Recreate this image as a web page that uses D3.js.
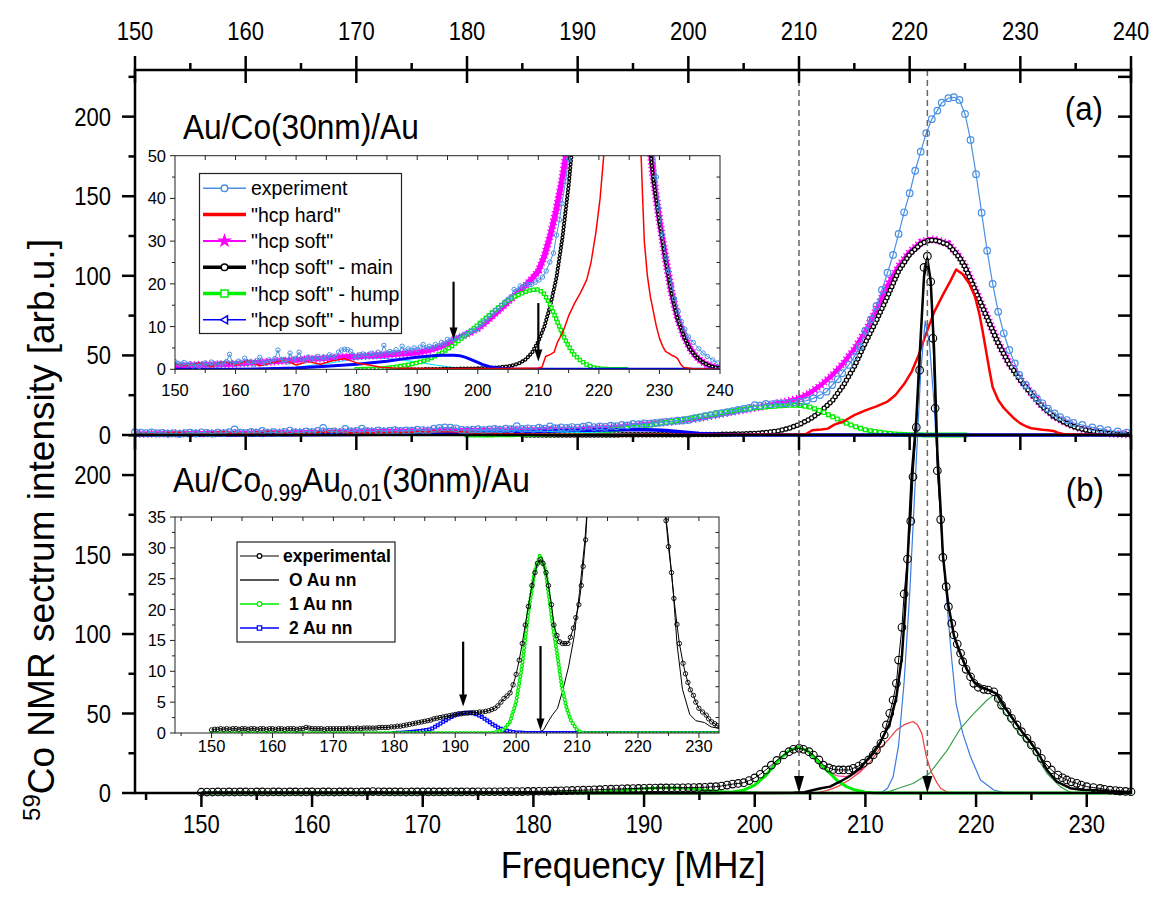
<!DOCTYPE html>
<html><head><meta charset="utf-8">
<script src="https://cdn.jsdelivr.net/npm/d3@7"></script>
<style>body{margin:0;background:#fff}text{font-family:"Liberation Sans",Arial,sans-serif;fill:#000}</style>
</head><body><svg id="c" width="1168" height="911"></svg>
<script>
// ---------------- DATA ----------------
// Panel (a) – top frequency axis
const expA=[[150,1.8],[150.5,1.4],[151,1.2],[151.5,1.6],[152,1.0],[152.5,1.3],[153,0.8],[153.5,1.1],[154,0.7],[154.5,1.2],[155,1.5],[155.5,1.0],[156,1.7],[156.5,1.3],[157,0.9],[157.5,1.4],[158,1.2],[158.5,1.8],[159,3.5],[159.5,1.5],[160,1.1],[160.5,1.9],[161,1.4],[161.5,2.6],[162,1.3],[162.5,1.8],[163,1.2],[163.5,2.0],[164,2.8],[164.5,1.6],[165,1.4],[165.5,2.2],[166,1.8],[166.5,2.5],[167,4.5],[167.5,2.1],[168,2.3],[168.5,1.7],[169,3.8],[169.5,2.2],[170,2.6],[170.5,4.0],[171,2.4],[171.5,2.1],[172,2.9],[172.5,2.3],[173,2.6],[173.5,3.0],[174,2.5],[174.5,2.9],[175,2.7],[175.5,3.4],[176,3.1],[176.5,2.8],[177,4.0],[177.5,4.5],[178,4.7],[178.5,4.6],[179,4.2],[179.5,3.2],[180,3.0],[180.5,3.4],[181,3.6],[181.5,3.1],[182,3.5],[182.5,3.8],[183,3.4],[183.5,4.0],[184,3.6],[184.5,5.6],[185,3.8],[185.5,4.2],[186,3.9],[186.5,4.6],[187,4.0],[187.5,5.4],[188,4.3],[188.5,4.8],[189,4.5],[189.5,5.0],[190,4.6],[190.5,5.2],[191,5.8],[191.5,5.0],[192,5.4],[192.5,5.1],[193,5.8],[193.5,5.5],[194,6.3],[194.5,6.0],[195,7.0],[195.5,6.8],[196,7.3],[196.5,7.2],[197,7.6],[197.5,7.9],[198,8.3],[198.5,8.6],[199,9.0],[199.5,9.1],[200,9.5],[200.5,10.5],[201,11.0],[201.5,11.8],[202,12.5],[202.5,13.2],[203,13.8],[203.5,14.3],[204,15.0],[204.5,15.8],[205,16.4],[205.5,17.0],[206,18.7],[206.5,18.4],[207,19.5],[207.5,19.3],[208,19.9],[208.5,19.8],[208.9,19.9],[209.5,20.4],[210.1,20.9],[210.7,21.6],[211.3,23.0],[211.9,25.1],[212.5,27.2],[213.0,31.4],[213.5,35.0],[213.9,38.8],[214.5,44.0],[215.0,49.2],[215.5,55.5],[216.0,65.5],[216.5,72.7],[217.0,81.1],[217.5,91.1],[218.0,102.0],[218.5,113.1],[219.0,126.3],[219.5,139.9],[220.0,151.9],[220.5,166.0],[221.0,178.0],[221.5,189.6],[222.0,198.4],[222.5,203.8],[222.9,208.8],[223.5,211.6],[224.0,212.2],[224.5,210.5],[225.0,201.7],[225.5,185.4],[226.0,163.8],[226.5,139.7],[227.0,115.8],[227.5,94.9],[228.0,77.5],[228.5,63.9],[229.0,53.4],[229.5,45.0],[229.9,37.7],[230.5,31.4],[231.1,26.2],[231.5,23.0],[232.0,19.9],[232.5,16.5],[233.1,13.6],[233.6,11.2],[234.2,9.4],[234.8,7.6],[235.6,6.3],[236.5,4.8],[237.2,3.8],[237.9,3.0],[238.8,2.2],[239.6,1.5]];
const hardA=[[150,1.2],[152,0.8],[154,1.5],[156,0.6],[158,1.8],[160,1.0],[162,2.0],[164,0.8],[166,1.5],[168,2.2],[170,1.0],[172,1.8],[174,1.2],[176,2.0],[178,2.5],[180,1.5],[182,1.0],[184,0.5],[186,0.3],[190,0.2],[195,0.2],[200,0.2],[205,0.2],[210,0.3],[210.6,0.5],[211.2,3],[212,3.5],[212.6,4],[213.2,6.5],[214,8.5],[215,12.5],[216,15.5],[217,18],[218,21],[218.7,25],[219.5,32],[220.2,40],[220.8,50],[221.5,64],[222.2,77],[223,88],[223.7,97],[224.2,104],[224.8,101],[225.4,95],[225.9,87],[226.3,76],[226.6,65],[226.9,53],[227.2,41],[227.5,30],[228,22],[228.5,17],[229,13.5],[229.5,10],[230,7.3],[230.5,5.5],[231,4.2],[231.5,3.8],[232,3.3],[232.5,3],[233,2.5],[233.5,1.2],[234,0.4],[236,0.1],[240,0]];
const softA=[[150,0.8],[152,0.9],[154,1.0],[156,1.1],[158,1.2],[160,1.3],[162,1.5],[164,1.6],[166,1.8],[168,2.0],[170,2.2],[172,2.4],[174,2.5],[176,2.7],[178,2.9],[180,3.0],[182,3.2],[184,3.3],[186,3.5],[188,3.7],[190,3.9],[191,4.2],[192,4.5],[193,4.9],[194,5.4],[195,6.0],[196,6.7],[197,7.4],[198,8.1],[199,8.8],[200,9.6],[201,10.7],[202,11.9],[203,13.2],[204,14.5],[205,15.8],[206,17.1],[207,18.4],[208,19.8],[209,21.3],[210,23.0],[211,26.5],[212,31.5],[213,37.5],[214,45],[215,54],[216,65],[217,79],[218,94],[219,106],[220,115],[221,121],[221.8,123],[222.5,122.5],[223.5,120],[224.5,112],[225,106],[226,90],[227,74],[228,58],[229,45],[230,35],[231,26],[232,18],[233,12],[234,8],[235,5],[236,3],[237,1.8],[238,1.0],[239,0.5],[240,0.3]];
const softMainA=[[185,0],[190,0],[195,0.1],[200,0.2],[203,0.4],[205,0.7],[206,1.0],[207,1.5],[208,2.4],[209,4.0],[210,6.5],[211,10],[212,15],[213,21.5],[214,31],[215,43],[216,58],[217,72],[218,87],[219,103],[220,113.5],[221,120],[221.8,122.5],[222.5,122],[223.5,119.5],[224.5,111.5],[225,105.5],[226,89.5],[227,73.5],[228,57.5],[229,44.5],[230,34.5],[231,25.7],[232,17.8],[233,11.8],[234,7.8],[235,4.8],[236,3],[237,1.8],[238,1],[239,0.5],[240,0.3]];
const humpA=[[180,0],[183,0.1],[185,0.3],[188,0.9],[190,1.5],[192,2.4],[194,3.8],[196,5.7],[198,8.0],[200,10.4],[202,12.9],[204,15.2],[206,17.0],[208,18.2],[209,18.6],[210,18.7],[211,17.6],[212,15.0],[213,11.6],[214,8.2],[215,5.4],[216,3.3],[217,2],[218,1.1],[219,0.5],[220,0.2],[222,0],[225,0]];
const hump2A=[[150,0],[160,0],[165,0.1],[170,0.3],[175,0.7],[180,1.2],[185,1.9],[188,2.5],[190,2.8],[192,3.1],[194,3.3],[196,3.3],[197,3.2],[198,2.8],[199,2.2],[200,1.6],[201,1.0],[202,0.6],[203,0.35],[204,0.2],[206,0.05],[208,0],[220,0],[240,0]];
const cyanA=[[165,0],[170,0.5],[175,1.3],[178,2.0],[181,2.5],[184,2.6],[187,2.3],[190,1.7],[193,1.0],[196,0.4],[199,0.1],[202,0]];
// Panel (b) – bottom frequency axis
const expB=[[150,0.5],[150.5,0.6],[151,0.6],[151.5,0.7],[152,0.6],[152.5,0.7],[153,0.6],[153.5,0.7],[154,0.7],[154.5,0.6],[155,0.7],[155.5,0.7],[156,0.6],[156.5,0.7],[157,0.7],[157.5,0.6],[158,0.7],[158.5,0.7],[159,0.6],[159.5,0.7],[160,0.7],[160.5,0.6],[161,0.7],[161.5,0.7],[162,0.6],[162.5,0.7],[163,0.7],[163.5,0.7],[164,0.6],[164.5,0.7],[165,0.7],[165.5,0.9],[166,0.8],[166.5,0.7],[167,0.7],[167.5,0.7],[168,0.7],[168.5,0.6],[169,0.7],[169.5,0.7],[170,0.7],[170.5,0.7],[171,0.7],[171.5,0.7],[172,0.7],[172.5,0.8],[173,0.7],[173.5,0.7],[174,0.8],[174.5,0.7],[175,0.8],[175.5,0.8],[176,0.8],[176.5,0.8],[177,0.8],[177.5,0.9],[178,0.9],[178.5,0.9],[179,0.9],[179.5,1.0],[180,1.0],[180.5,1.1],[181,1.1],[181.5,1.2],[182,1.3],[182.5,1.4],[183,1.5],[183.5,1.6],[184,1.7],[184.5,1.8],[185,1.9],[185.5,2.0],[186,2.1],[186.5,2.3],[187,2.4],[187.5,2.5],[188,2.6],[188.5,2.7],[189,2.8],[189.5,2.9],[190,3.0],[190.5,3.1],[191,3.1],[191.5,3.2],[192,3.2],[192.5,3.3],[193,3.3],[193.5,3.3],[194,3.4],[194.5,3.4],[195,3.5],[195.5,3.6],[196,3.8],[196.5,4.0],[197,4.4],[197.5,5.0],[198,5.6],[198.5,6.0],[199,6.5],[199.5,7.8],[200,9.5],[200.5,11.8],[201,14.5],[201.5,17.5],[202,20.5],[202.6,23.9],[203.1,26.0],[203.5,27.5],[204.0,28.1],[204.4,27.5],[204.9,26.0],[205.3,23.9],[205.8,20.8],[206.2,17.5],[206.7,15.8],[207.1,14.8],[207.6,14.5],[208.0,14.5],[208.5,14.5],[208.9,15.5],[209.4,17.0],[209.8,18.7],[210.3,20.8],[210.7,23.9],[211.0,27.0],[211.4,31.3],[211.7,36.5],[211.9,42.8],[212.2,50.1],[212.5,58.5],[212.8,69.0],[213.0,83.6],[213.3,104.2],[213.5,125.2],[213.8,147.2],[214.1,171.0],[214.3,198.9],[214.6,230],[214.9,266],[215.3,330.6],[215.6,337.7],[215.9,321.6],[216.1,286],[216.3,242],[216.5,202.7],[216.8,172],[217.0,148.2],[217.3,129.8],[217.5,117.2],[217.8,106.7],[218.0,99.4],[218.3,93.7],[218.6,87.9],[218.8,82.6],[219.1,77.8],[219.5,73.1],[219.8,69.0],[220.2,66.5],[220.7,65.2],[221.1,64.8],[221.6,63.7],[222.0,59.5],[222.3,55.3],[222.8,51.1],[223.2,47.0],[223.7,42.8],[224.1,38.6],[224.6,34.4],[225.0,30.2],[225.5,26.0],[225.9,21.8],[226.4,17.6],[226.8,14.5],[227.4,11.3],[227.8,9.6],[228.2,8.2],[228.6,7.0],[229.1,6.1],[229.5,5.0],[230.0,4.0],[230.6,3.4],[231.2,2.9],[231.6,2.3],[232.1,1.8],[232.6,1.5],[233.0,1.2],[233.5,1.0],[234.0,0.8]];
const nn0B=[[150,0],[200,0],[203.5,0.1],[204.5,0.5],[205.3,1.9],[206,3],[206.8,4],[207.7,7.1],[208.6,10.7],[209.5,15.5],[210.4,22.8],[211.3,31.3],[212.2,43.8],[212.8,60.5],[213.3,85.7],[213.6,117],[213.9,159],[214.2,201],[214.6,235],[214.9,275],[215.3,325],[215.6,336],[215.9,322],[216.2,280],[216.5,215],[216.8,178],[217.0,150],[217.3,130],[217.5,118],[217.8,107],[218.0,99],[218.5,89],[219.2,77.4],[219.8,70],[220.4,66.9],[221.3,64.3],[221.9,62.3],[222.6,54],[223.4,45.9],[224.2,38],[224.9,32.3],[225.8,22.8],[226.4,14.5],[227.3,7.1],[228.5,3],[229.5,2],[230.9,1.7],[232,1],[234,0.6]];
const redB=[[205.5,0],[206.5,1.5],[207.5,4],[208.5,8],[209.5,13],[210.5,20],[211.3,28],[212,33],[212.8,39.5],[213.5,43],[214.3,45],[214.7,43],[215.1,37.5],[215.5,23],[215.9,14],[216.2,10],[216.5,6],[216.8,3],[217.4,0.5],[218,0]];
const blueB=[[210,0],[211.5,0.5],[212,3],[212.5,10],[213,30],[213.5,70],[214,125],[214.5,195],[215,265],[215.4,297],[215.8,282],[216.2,245],[216.6,195],[217,152],[217.4,117],[217.8,84],[218.2,56],[218.8,37.5],[219.5,22.8],[220.4,8.2],[221.6,1.9],[222.5,0.3],[224,0]];
const dgreenB=[[211.5,0],[212.2,1],[213,3],[214.3,6],[215.8,12.4],[217.4,27],[218.6,40.7],[219.8,50.1],[221.0,58.5],[221.6,61.6],[222.2,54.3],[223.4,41.7],[224.6,31.3],[225.5,22.8],[226.4,12.4],[227.6,4],[228.5,0.5],[229,0]];
const pinkB=[[205.3,22],[206,16.5],[206.8,12.4],[207.5,10.8],[208.2,10.3],[208.9,11.5],[209.5,14],[210,17]];
const nn1B=[[150,0],[160,0],[170,0],[180,0],[190,0],[196,0],[197,0.2],[198,0.6],[199,1.8],[200,5],[201,11],[202,19.5],[203,26],[203.9,28.8],[204.8,26.5],[205.3,22.8],[206,17.5],[206.8,12.4],[207.5,7.5],[208.3,4],[209,2],[210,0.5],[211,0],[220,0],[234,0]];
const nn2B=[[180,0],[182,0.1],[184,0.3],[186,0.6],[187,1.2],[188,1.8],[189,2.4],[190,2.9],[191,3.2],[192,3.3],[193,3.2],[194,2.8],[195,2.2],[196,1.5],[197,0.9],[198,0.5],[199,0.25],[200,0.1],[202,0],[210,0]];
const zeroOlive=[[199,0],[210.5,0]];
const zeroTeal=[[210.5,0],[234,0]];
// ticks / labels
const topTicks=[150,160,170,180,190,200,210,220,230,240];
const botTicks=[150,160,170,180,190,200,210,220,230];
const yTicks=[0,50,100,150,200];
const insetATicksX=[150,160,170,180,190,200,210,220,230,240];
const insetATicksY=[0,10,20,30,40,50];
const insetBTicksX=[150,160,170,180,190,200,210,220,230];
const insetBTicksY=[0,5,10,15,20,25,30,35];
const markers=[204,215.6];
const arrowsA=[[196,20.5,7],[210,15.5,1.8]];
const arrowsB=[[191.3,14.8,4.3],[204,14.1,0.4]];
const legendA=['experiment','"hcp hard"','"hcp soft"','"hcp soft" - main','"hcp soft" - hump','"hcp soft" - hump'];
const legendB=['experimental','O Au nn','1 Au nn','2 Au nn'];

// ---------------- LAYOUT ----------------
const svg=d3.select('#c');
const L=135,R=1131,T=70,MID=435,B=793;
const xTop=d3.scaleLinear().domain([150,240]).range([L,R]);
const xBot=d3.scaleLinear().domain([144,234]).range([L,R]);
const yA=d3.scaleLinear().domain([0,229.3]).range([MID,T]);
const yB=d3.scaleLinear().domain([0,225.2]).range([B,MID]);
const xIA=d3.scaleLinear().domain([150,240]).range([175,720]);
const yIA=d3.scaleLinear().domain([0,50]).range([369.3,155.7]);
const xIB=d3.scaleLinear().domain([144,233.3]).range([175,719]);
const yIB=d3.scaleLinear().domain([0,35]).range([733,517]);

const C={exp:'#4a90e4',red:'#ff0000',mag:'#ff00ff',grn:'#00ee00',blu:'#0000ff',cyan:'#00e5ff'};

function ln(xs,ys){return d3.line().x(d=>xs(d[0])).y(d=>ys(d[1]));}
function path(g,data,xs,ys,color,w){
  return g.append('path').attr('d',ln(xs,ys)(data)).attr('fill','none').attr('stroke',color).attr('stroke-width',w).attr('stroke-linejoin','round');
}
function chain(g,data,xs,ys,color,size,gap,cap,hollow){
  const d=ln(xs,ys)(data);
  g.append('path').attr('d',d).attr('fill','none').attr('stroke',color).attr('stroke-width',size).attr('stroke-dasharray',`0,${gap}`).attr('stroke-linecap',cap);
  if(hollow) g.append('path').attr('d',d).attr('fill','none').attr('stroke','#fff').attr('stroke-width',size-2.6).attr('stroke-dasharray',`0,${gap}`).attr('stroke-linecap',cap);
}
function circles(g,data,xs,ys,color,r,w,fill){
  g.selectAll(null).data(data).enter().append('circle').attr('cx',d=>xs(d[0])).attr('cy',d=>ys(d[1])).attr('r',r).attr('fill',fill||'none').attr('stroke',color).attr('stroke-width',w);
}
function tick(g,x1,y1,x2,y2,w,c){g.append('line').attr('x1',x1).attr('y1',y1).attr('x2',x2).attr('y2',y2).attr('stroke',c||'#000').attr('stroke-width',w);}
function txt(g,x,y,s,size,anchor,weight,sx){
  return g.append('text').attr('transform',`translate(${x},${y}) scale(${sx||1},1)`).attr('font-size',size).attr('text-anchor',anchor||'start').attr('font-weight',weight||'normal').text(s);
}

svg.append('rect').attr('width',1168).attr('height',911).attr('fill','#fff');

// ---------------- MAIN PANEL (a) DATA ----------------
const ga=svg.append('g');
path(ga,softA,xTop,yA,C.mag,4.5);
ga.append('path').attr('d',ln(xTop,yA)(softA)).attr('fill','none').attr('stroke',C.mag).attr('stroke-width',8).attr('stroke-dasharray','1.3,2.7');
path(ga,softMainA,xTop,yA,'#000',2);
chain(ga,softMainA,xTop,yA,'#000',5.5,4,'round',true);
path(ga,humpA,xTop,yA,C.grn,2.5);
chain(ga,humpA,xTop,yA,C.grn,5,5,'square',true);
path(ga,hump2A,xTop,yA,C.blu,3.5);
path(ga,cyanA,xTop,yA,C.cyan,1);
path(ga,hardA,xTop,yA,C.red,2.5);
path(ga,expA,xTop,yA,C.exp,1.2);
circles(ga,expA,xTop,yA,C.exp,3.3,1.2,'none');

// ---------------- MAIN PANEL (b) DATA ----------------
const gb=svg.append('g');
path(gb,zeroOlive,xBot,yB,'#b08a1a',2);
path(gb,zeroTeal,xBot,yB,'#2aa8a0',2);
path(gb,redB,xBot,yB,'#f03c3c',1.2);
path(gb,blueB,xBot,yB,'#3a7be0',1.2);
path(gb,dgreenB,xBot,yB,'#3aa24c',1.2);
path(gb,pinkB,xBot,yB,'#ff3fa0',1.2);
path(gb,nn2B,xBot,yB,C.grn,2.5);
path(gb,nn1B,xBot,yB,C.grn,3);
path(gb,nn0B,xBot,yB,'#000',2.5);
path(gb,expB,xBot,yB,'#000',1);
circles(gb,expB,xBot,yB,'#000',3.8,1.1,'none');

// dashed markers + arrows
markers.forEach(m=>{
  const x=xBot(m);
  svg.append('line').attr('x1',x).attr('x2',x).attr('y1',T).attr('y2',B-16).attr('stroke','#666').attr('stroke-width',1.5).attr('stroke-dasharray','6,4');
  svg.append('path').attr('d',`M${x-5},${B-17}L${x+5},${B-17}L${x},${B}Z`).attr('fill','#000');
});

// ---------------- FRAME & AXES ----------------
const fr=svg.append('g');
fr.append('rect').attr('x',L).attr('y',T).attr('width',R-L).attr('height',B-T).attr('fill','none').attr('stroke','#000').attr('stroke-width',2.5);
tick(fr,L,MID,R,MID,2.5);
const TS=25,TSX=0.88;
topTicks.forEach(v=>{const x=xTop(v);tick(fr,x,T-14,x,T+13,2.5);tick(fr,x,MID,x,MID+15,2.5);txt(fr,x,40,v,TS,'middle','normal',TSX);});
topTicks.slice(0,-1).forEach(v=>{const x=xTop(v+5);tick(fr,x,T-7,x,T,2.5);tick(fr,x,MID,x,MID+7,2.5);});
botTicks.forEach(v=>{const x=xBot(v);tick(fr,x,B,x,B+14,2.5);txt(fr,x,833,v,TS,'middle','normal',TSX);});
[145,155,165,175,185,195,205,215,225].forEach(v=>{const x=xBot(v);tick(fr,x,B,x,B+7,2.5);});
[[yA,229],[yB,225]].forEach(([ys,max])=>{
  yTicks.forEach(v=>{const y=ys(v);tick(fr,L-13,y,L,y,2.5);tick(fr,R-13,y,R,y,2.5);txt(fr,111,y+9,v,TS,'end','normal',TSX);});
  [25,75,125,175,225].filter(v=>v<=max).forEach(v=>{const y=ys(v);tick(fr,L-6.5,y,L,y,2.5);tick(fr,R-13,y,R,y,2.5);});
});

// titles
txt(svg,183,139,'Au/Co(30nm)/Au',36,'start','normal',0.88);
const tb=svg.append('text').attr('transform','translate(173,492) scale(0.88,1)').attr('font-size',36);
tb.append('tspan').text('Au/Co');
tb.append('tspan').attr('font-size',24).attr('dy',9).text('0.99');
tb.append('tspan').attr('dy',-9).text('Au');
tb.append('tspan').attr('font-size',24).attr('dy',9).text('0.01');
tb.append('tspan').attr('dy',-9).text('(30nm)/Au');
txt(svg,1103,120,'(a)',34,'end','normal',0.92);
txt(svg,1104,501,'(b)',34,'end','normal',0.92);
txt(svg,633,878,'Frequency [MHz]',37,'middle','normal',0.94);
const yl=svg.append('text').attr('transform','translate(54,530) rotate(-90) scale(1,1)').attr('font-size',37).attr('text-anchor','middle');
yl.append('tspan').attr('font-size',24).attr('dy',-14).text('59');
yl.append('tspan').attr('dy',14).text('Co NMR sectrum intensity [arb.u.]');

// ---------------- INSET (a) ----------------
const defs=svg.append('defs');
defs.append('clipPath').attr('id','clipA').append('rect').attr('x',175).attr('y',155.7).attr('width',545).attr('height',213.6);
defs.append('clipPath').attr('id','clipB').append('rect').attr('x',175).attr('y',517).attr('width',544).attr('height',216);
const ia=svg.append('g');
ia.append('rect').attr('x',175).attr('y',155.7).attr('width',545).attr('height',213.6).attr('fill','#fff');
const iad=ia.append('g').attr('clip-path','url(#clipA)');
path(iad,cyanA,xIA,yIA,C.cyan,1.2);
path(iad,softA,xIA,yIA,C.mag,5.5);
iad.append('path').attr('d',ln(xIA,yIA)(softA)).attr('fill','none').attr('stroke',C.mag).attr('stroke-width',8).attr('stroke-dasharray','1.2,2.6');
path(iad,softMainA,xIA,yIA,'#000',1.2);
chain(iad,softMainA,xIA,yIA,'#000',4.2,3.5,'round',true);
path(iad,humpA,xIA,yIA,C.grn,2.5);
chain(iad,humpA,xIA,yIA,C.grn,4.5,4,'square',true);
path(iad,hump2A,xIA,yIA,C.blu,3);
path(iad,hardA,xIA,yIA,C.red,1.5);
path(iad,expA,xIA,yIA,C.exp,1);
circles(iad,expA,xIA,yIA,C.exp,2.2,1,'none');
ia.append('rect').attr('x',175).attr('y',155.7).attr('width',545).attr('height',213.6).attr('fill','none').attr('stroke','#222').attr('stroke-width',1);
const IS=16.5;
insetATicksX.forEach(v=>{const x=xIA(v);tick(ia,x,369.3,x,374,1,'#222');txt(ia,x,396,v,IS,'middle');});
insetATicksX.slice(0,-1).forEach(v=>{const x=xIA(v+5);tick(ia,x,369.3,x,373,1,'#222');});
insetATicksX.forEach(v=>{[0,5].forEach(o=>{if(v+o<240&&v+o>150){const x=xIA(v+o);tick(ia,x,155.7,x,160,1,'#222');}});});
insetATicksY.forEach(v=>{const y=yIA(v);tick(ia,170,y,175,y,1,'#222');txt(ia,166,y+6,v,IS,'end');if(v>0&&v<50)tick(ia,716,y,720,y,1,'#222');});
insetATicksY.slice(0,-1).forEach(v=>{const y=yIA(v+5);tick(ia,172,y,175,y,1,'#222');tick(ia,716.5,y,720,y,1,'#222');});
arrowsA.forEach(([f,v0,v1])=>{const x=xIA(f),y0=yIA(v0),y1=yIA(v1);tick(ia,x,y0,x,y1-10,2.2);ia.append('path').attr('d',`M${x-4},${y1-12}L${x+4},${y1-12}L${x},${y1}Z`).attr('fill','#000');});
// legend (a)
const la=ia.append('g');
la.append('rect').attr('x',199.5).attr('y',173.5).attr('width',202).attr('height',160).attr('fill','#fff').attr('stroke','#222').attr('stroke-width',1.2);
legendA.forEach((s,i)=>{
  const y=188.3+i*26.3,x0=203,x1=246,xm=224.5;
  const cols=[C.exp,C.red,C.mag,'#000',C.grn,C.blu],ws=[1.5,3.5,2,3.5,3.5,1.5];
  tick(la,x0,y,x1,y,ws[i],cols[i]);
  if(i===0||i===3) la.append('circle').attr('cx',xm).attr('cy',y).attr('r',3.3).attr('fill','#fff').attr('stroke',cols[i]).attr('stroke-width',1.5);
  if(i===2) la.append('path').attr('transform',`translate(${xm},${y})`).attr('d',d3.symbol().type(d3.symbolStar).size(70)()).attr('fill',C.mag);
  if(i===4) la.append('rect').attr('x',xm-3.5).attr('y',y-3.5).attr('width',7).attr('height',7).attr('fill','#fff').attr('stroke',C.grn).attr('stroke-width',1.5);
  if(i===5) la.append('path').attr('d',`M${xm-4},${y}L${xm+3},${y-4}L${xm+3},${y+4}Z`).attr('fill','#fff').attr('stroke',C.blu).attr('stroke-width',1.5);
  txt(la,251,y+7,s,19.5);
});

// ---------------- INSET (b) ----------------
const ib=svg.append('g');
ib.append('rect').attr('x',175).attr('y',517).attr('width',544).attr('height',216).attr('fill','#fff');
const ibd=ib.append('g').attr('clip-path','url(#clipB)');
path(ibd,nn0B,xIB,yIB,'#000',1);
path(ibd,nn2B,xIB,yIB,C.blu,1.2);
chain(ibd,nn2B.concat([[234,0]]),xIB,yIB,C.blu,4,3.2,'square',true);
path(ibd,nn1B,xIB,yIB,C.grn,1.2);
chain(ibd,nn1B,xIB,yIB,C.grn,4.2,3.6,'round',true);
path(ibd,expB,xIB,yIB,'#000',1);
circles(ibd,expB,xIB,yIB,'#000',2.2,0.9,'none');
ib.append('rect').attr('x',175).attr('y',517).attr('width',544).attr('height',216).attr('fill','none').attr('stroke','#222').attr('stroke-width',1);
insetBTicksX.forEach(v=>{const x=xIB(v);tick(ib,x,733,x,738,1,'#222');txt(ib,x,752,v,IS,'middle');});
[145,155,165,175,185,195,205,215,225].forEach(v=>{const x=xIB(v);tick(ib,x,733,x,736,1,'#222');});
[145,150,155,160,165,170,175,180,185,190,195,200,205,210,215,220,225,230].forEach(v=>{const x=xIB(v);tick(ib,x,517,x,521,1,'#222');});
insetBTicksY.forEach(v=>{const y=yIB(v);tick(ib,170,y,175,y,1,'#222');txt(ib,166,y+6,v,IS,'end');if(v>0&&v<35)tick(ib,715,y,719,y,1,'#222');});
insetBTicksY.slice(0,-1).forEach(v=>{const y=yIB(v+2.5);tick(ib,172,y,175,y,1,'#222');tick(ib,715.5,y,719,y,1,'#222');});
arrowsB.forEach(([f,v0,v1])=>{const x=xIB(f),y0=yIB(v0),y1=yIB(v1);tick(ib,x,y0,x,y1-10,2.2);ib.append('path').attr('d',`M${x-4},${y1-12}L${x+4},${y1-12}L${x},${y1}Z`).attr('fill','#000');});
const lb=ib.append('g');
lb.append('rect').attr('x',237).attr('y',542).attr('width',158).attr('height',100).attr('fill','#fff').attr('stroke','#222').attr('stroke-width',1.2);
legendB.forEach((s,i)=>{
  const y=556+i*24,x0=240,x1=279,xm=259.5;
  const cols=['#000','#555',C.grn,C.blu],ws=[1.2,2,1.5,1.5];
  tick(lb,x0,y,x1,y,ws[i],cols[i]);
  if(i===0||i===2) lb.append('circle').attr('cx',xm).attr('cy',y).attr('r',2.3).attr('fill','#fff').attr('stroke',cols[i]).attr('stroke-width',1.2);
  if(i===3) lb.append('rect').attr('x',xm-2.2).attr('y',y-2.2).attr('width',4.4).attr('height',4.4).attr('fill','#fff').attr('stroke',C.blu).attr('stroke-width',1.2);
  txt(lb,i===0?283:289,y+6,s,17.5,'start','bold');
});
</script></body></html>
